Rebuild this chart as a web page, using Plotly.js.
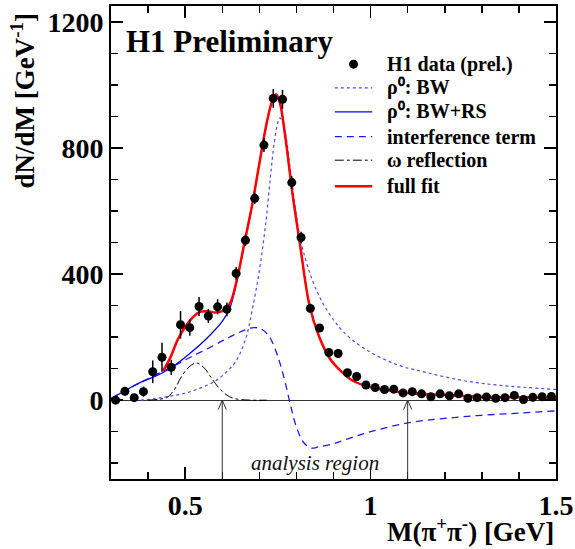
<!DOCTYPE html>
<html>
<head>
<meta charset="utf-8">
<script src="https://cdn.plot.ly/plotly-3.0.1.min.js"></script>
<style>html,body{margin:0;padding:0;background:#fff;}</style>
</head>
<body>
<div id="chart" style="width:575px;height:549px;"></div>
<script>
// ---- H1 data points (bin centres, counts, errors) ----
const massBins = [0.3125,0.3375,0.3625,0.3875,0.4125,0.4375,0.4625,0.4875,0.5125,0.5375,0.5625,0.5875,0.6125,0.6375,0.6625,0.6875,0.7125,0.7375,0.7625,0.7875,0.8125,0.8375,0.8625,0.8875,0.9125,0.9375,0.9625,0.9875,1.0125,1.0375,1.0625,1.0875,1.1125,1.1375,1.1625,1.1875,1.2125,1.2375,1.2625,1.2875,1.3125,1.3375,1.3625,1.3875,1.4125,1.4375,1.4625,1.4875];
const h1Counts = [0,28,8,27,90,136,104,239,230,297,267,296,288,402,507,640,809,957,954,690,516,291,229,151,148,87,75,48,40,34,35,23,27,20,11,20,14,20,6,8,10,6,8,15,2,9,11,12];
const h1Errors = [10,14,10,16,36,46,24,44,26,30,22,24,22,20,18,18,22,30,30,20,18,15,12,10,10,8,8,7,7,6,6,6,6,6,6,6,6,6,6,6,6,6,6,6,6,6,6,6];

// ---- full fit ----
const fitMass = [0.44,0.46,0.48,0.50,0.52,0.54,0.56,0.58,0.60,0.62,0.64,0.66,0.68,0.70,0.72,0.735,0.745,0.755,0.77,0.79,0.81,0.835,0.86,0.89,0.92,0.95,0.99,1.04,1.1,1.2,1.3,1.4,1.5];
const fitFull = [92,135,192,232,262,280,282,278,282,305,385,500,615,750,880,950,970,945,835,650,491,302,205,132,92,63,44,32,23,16,11,9,7];

// ---- rho0 BW+RS ----
const bwrsMass = [0.30,0.33,0.36,0.39,0.42,0.45,0.48,0.51,0.54,0.57,0.60,0.62,0.64,0.66,0.68,0.70,0.72,0.735,0.745,0.755,0.77,0.79,0.81,0.835,0.86,0.89,0.92,0.95,0.99,1.04,1.1,1.2,1.3,1.4,1.5];
const bwrsValues = [5,25,45,62,76,94,118,146,176,210,250,290,380,498,615,750,880,950,970,945,835,650,491,302,205,132,92,63,44,32,23,16,11,9,7];

// ---- rho0 BW ----
const bwMass = [0.38,0.42,0.46,0.50,0.54,0.58,0.61,0.637,0.664,0.682,0.70,0.718,0.73,0.74,0.748,0.755,0.762,0.77,0.788,0.81,0.84,0.87,0.90,0.925,0.98,1.07,1.15,1.25,1.35,1.5];
const bwValues = [0,5,13,22,38,60,88,124,198,293,410,568,710,815,870,895,885,850,690,515,390,310,255,219,166,113,88,62,47,34];

// ---- interference term ----
const intMass = [0.30,0.35,0.40,0.44,0.48,0.52,0.56,0.60,0.63,0.66,0.685,0.705,0.725,0.74,0.755,0.77,0.785,0.80,0.82,0.84,0.86,0.90,0.95,1.0,1.1,1.2,1.3,1.4,1.5];
const intValues = [5,38,68,92,115,140,163,188,206,222,230,226,205,170,120,55,-20,-85,-135,-152,-148,-138,-118,-100,-72,-58,-48,-41,-34];

// ---- omega reflection ----
const omegaMass = [0.40,0.43,0.45,0.47,0.49,0.51,0.53,0.55,0.57,0.59,0.61,0.63,0.65,0.68,0.72];
const omegaValues = [0,3,8,32,75,105,118,104,72,40,18,6,2,0,0];

// ---- axes / labels ----
const xTickVals = [0.5,1,1.5];
const xTickText = ['0.5','1','1.5'];
const yTickVals = [0,400,800,1200];
const yTickText = ['0','400','800','1200'];
const analysisEdges = [0.6,1.1];
const legendLabels = ['H1 data (prel.)','ρ⁰: BW','ρ⁰: BW+RS','interference term','ω reflection','full fit'];

const serif = 'Liberation Serif, Times New Roman, serif';

const styles = {
  bw:   {color:'#4a4aff', width:1.2, dash:'dot', shape:'spline'},
  inter:{color:'#1a1aff', width:1.3, dash:'7px,5px', shape:'spline'},
  omega:{color:'#000', width:1, dash:'dashdot', shape:'spline'},
  bwrs: {color:'#0000ff', width:1.3, shape:'spline'},
  full: {color:'#ff0000', width:2.5, shape:'spline'}
};

const traces = [
  {x: bwMass, y: bwValues, type:'scatter', mode:'lines', name:legendLabels[1], showlegend:false, line:styles.bw},
  {x: intMass, y: intValues, type:'scatter', mode:'lines', name:legendLabels[3], showlegend:false, line:styles.inter},
  {x: omegaMass, y: omegaValues, type:'scatter', mode:'lines', name:legendLabels[4], showlegend:false, line:styles.omega},
  {x: bwrsMass, y: bwrsValues, type:'scatter', mode:'lines', name:legendLabels[2], showlegend:false, line:styles.bwrs},
  {x: fitMass, y: fitFull, type:'scatter', mode:'lines', name:legendLabels[5], showlegend:false, line:styles.full},
  {x: massBins, y: h1Counts, type:'scatter', mode:'markers', name:legendLabels[0], showlegend:false,
   marker:{color:'#000', size:9},
   error_y:{type:'data', array:h1Errors, visible:true, color:'#000', thickness:1.5, width:0}}
];

const legendFont = {family:serif, size:20, weight:'bold', color:'#000'};
const rowY = [0.877, 0.827, 0.776, 0.724, 0.674, 0.619];
const sampleX0 = 0.503, sampleX1 = 0.587, textX = 0.615;
const rowStyles = [null, styles.bw, styles.bwrs, styles.inter, styles.omega, styles.full];

const annotations = [
  {xref:'paper', yref:'paper', x:0.03, y:0.924, xanchor:'left', yanchor:'middle', showarrow:false,
   text:'H1 Preliminary', font:{family:serif, size:31, weight:'bold', color:'#000'}},
  {xref:'x', yref:'y', x:0.85, y:-200, showarrow:false, text:'analysis region',
   font:{family:serif, size:21, style:'italic', color:'#111'}},
  {xref:'paper', yref:'paper', x:1.0, y:-0.108, xanchor:'right', yanchor:'middle', showarrow:false,
   text:'M(π<sup>+</sup>π<sup>-</sup>) [GeV]', font:{family:serif, size:27, weight:'bold', color:'#000'}},
  {xref:'paper', yref:'paper', x:-0.198, y:0.99, xanchor:'center', yanchor:'top', textangle:-90, showarrow:false,
   text:'dN/dM [GeV<sup>-1</sup>]', font:{family:serif, size:27, weight:'bold', color:'#000'}}
];
const shapes = [];
legendLabels.forEach(function(lbl, i){
  annotations.push({xref:'paper', yref:'paper', x:textX, y:rowY[i], xanchor:'left', yanchor:'middle',
    showarrow:false, text:lbl, font:legendFont});
  if (i === 0) {
    const cx = (sampleX0 + sampleX1) / 2;
    shapes.push({type:'circle', xref:'paper', yref:'paper', x0:cx-0.0101, x1:cx+0.0101,
      y0:rowY[i]-0.0095, y1:rowY[i]+0.0095, fillcolor:'#000', line:{width:0}});
  } else {
    const st = rowStyles[i];
    shapes.push({type:'line', xref:'paper', yref:'paper', x0:sampleX0, x1:sampleX1, y0:rowY[i], y1:rowY[i],
      line:{color:st.color, width:st.width, dash:st.dash || 'solid'}});
  }
});
// analysis-region arrows
analysisEdges.forEach(function(m){
  shapes.push({type:'line', xref:'x', yref:'y', x0:m, x1:m, y0:-250, y1:0, line:{color:'#333', width:1}});
  const dx = 0.011, dy = 30;
  shapes.push({type:'path', xref:'x', yref:'y',
    path:'M'+(m-dx)+','+(-dy)+' L'+m+',0 L'+(m+dx)+','+(-dy), line:{color:'#333', width:1}});
});

const layout = {
  width:575, height:549,
  margin:{l:111, r:19, t:6, b:70, pad:0},
  paper_bgcolor:'#fff', plot_bgcolor:'#fff',
  showlegend:false,
  xaxis:{range:[0.3,1.5], tickvals:xTickVals, ticktext:xTickText, ticks:'inside', ticklen:12,
    tickwidth:1.5, tickcolor:'#000', showline:true, linecolor:'#000', linewidth:2, mirror:'ticks',
    showgrid:false, zeroline:false,
    minor:{dtick:0.1, tick0:0, ticks:'inside', ticklen:7, tickwidth:1.5, tickcolor:'#000', showgrid:false},
    tickfont:{family:serif, size:28, weight:'bold', color:'#000'}},
  yaxis:{range:[-250,1250], tickvals:yTickVals, ticktext:yTickText, ticks:'inside', ticklen:12,
    tickwidth:1.5, tickcolor:'#000', showline:true, linecolor:'#000', linewidth:2, mirror:'ticks',
    showgrid:false, zeroline:true, zerolinecolor:'#333', zerolinewidth:1,
    minor:{dtick:100, tick0:0, ticks:'inside', ticklen:7, tickwidth:1.5, tickcolor:'#000', showgrid:false},
    tickfont:{family:serif, size:28, weight:'bold', color:'#000'}},
  annotations: annotations,
  shapes: shapes
};

Plotly.newPlot('chart', traces, layout, {displayModeBar:false, staticPlot:true});
</script>
</body>
</html>
